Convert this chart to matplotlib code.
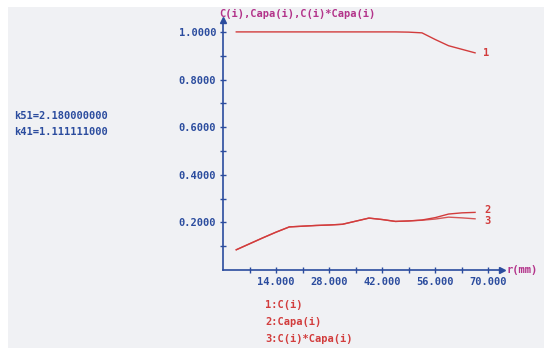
import matplotlib
matplotlib.use("Agg")
import matplotlib.pyplot as plt
from matplotlib.patches import Rectangle

# radial positions (mm)
r = [3.5, 7, 10.5, 14, 17.5, 21, 24.5, 28, 31.5, 35, 38.5,
     42, 45.5, 49, 52.5, 56, 59.5, 63, 66.5]
# 1: C(i)
c = [1.0, 1.0, 1.0, 1.0, 1.0, 1.0, 1.0, 1.0, 1.0, 1.0, 1.0,
     1.0, 1.0, 0.999, 0.996, 0.968, 0.942, 0.927, 0.912]
# 2: Capa(i)
capa = [0.085, 0.110, 0.135, 0.159, 0.181, 0.184, 0.187, 0.189, 0.192, 0.205, 0.218,
        0.212, 0.204, 0.206, 0.210, 0.220, 0.235, 0.240, 0.242]
# 3: C(i)*Capa(i)
c_capa = [0.085, 0.110, 0.135, 0.159, 0.181, 0.184, 0.187, 0.189, 0.192, 0.205, 0.218,
          0.212, 0.204, 0.206, 0.209, 0.214, 0.222, 0.219, 0.215]

y_ticks = [0.2, 0.4, 0.6, 0.8, 1.0]
x_ticks = [14, 28, 42, 56, 70]
legend_lines = ["1:C(i)", "2:Capa(i)", "3:C(i)*Capa(i)"]
params = ["k51=2.180000000", "k41=1.111111000"]

W, H = 544, 348
blue = "#2b4c9e"
red = "#d23c3c"
magenta = "#b3338a"
font = dict(family="DejaVu Sans Mono", fontweight="bold", fontsize=7.5)

fig = plt.figure(figsize=(W / 100, H / 100), dpi=100, facecolor="white")
fig.patches.append(Rectangle((8 / W, 0), 1, 1 - 7 / H, transform=fig.transFigure,
                             facecolor="#f0f1f4", edgecolor="none", zorder=-10))

def px(x, y):
    return x / W, 1 - y / H

x_left, x_right = 223, 501.6
y_bot, y_top = 270, 20
ax = fig.add_axes([x_left / W, 1 - y_bot / H, (x_right - x_left) / W, (y_bot - y_top) / H])
ax.set_zorder(5)
ax.set_facecolor("none")
ax.set_xlim(0, 73.5)
ax.set_ylim(0, 1.05)

ax.plot(r, c, color=red, lw=1)
ax.plot(r, capa, color=red, lw=1)
ax.plot(r, c_capa, color=red, lw=1, alpha=0.85)

for s in ["top", "right"]:
    ax.spines[s].set_visible(False)
for s in ["left", "bottom"]:
    ax.spines[s].set_color(blue)
    ax.spines[s].set_linewidth(1.2)

ax.set_xticks(x_ticks)
ax.set_xticklabels(["%.3f" % v for v in x_ticks], color=blue, **font)
ax.set_xticks([7 * i for i in range(1, 11)], minor=True)
ax.set_yticks(y_ticks)
ax.set_yticklabels(["%.4f" % v for v in y_ticks], color=blue, **font)
ax.set_yticks([0.1 * i for i in range(1, 11)], minor=True)
ax.tick_params(which="both", direction="inout", length=4, width=1, color=blue, pad=3)

# arrow heads at the axis ends
ax.plot(1, 0, ">", transform=ax.transAxes, color=blue, ms=4, clip_on=False)
ax.plot(0, 1, "^", transform=ax.transAxes, color=blue, ms=4, clip_on=False)

# curve numbers
ax.text(r[-1] + 2.2, c[-1], "1", color=red, va="center", **font)
ax.text(r[-1] + 2.4, capa[-1] + 0.012, "2", color=red, va="center", **font)
ax.text(r[-1] + 2.4, c_capa[-1] - 0.01, "3", color=red, va="center", **font)

fig.text(*px(219, 14), "C(i),Capa(i),C(i)*Capa(i)", color=magenta, va="center", **font)
fig.text(*px(506, 270), "r(mm)", color=magenta, va="center", **font)

for i, t in enumerate(params):
    fig.text(*px(14, 116 + 16 * i), t, color=blue, va="center", **font)
for i, t in enumerate(legend_lines):
    fig.text(*px(265, 305 + 17 * i), t, color=red, va="center", **font)

fig.savefig("out.png", dpi=100, facecolor="white")
